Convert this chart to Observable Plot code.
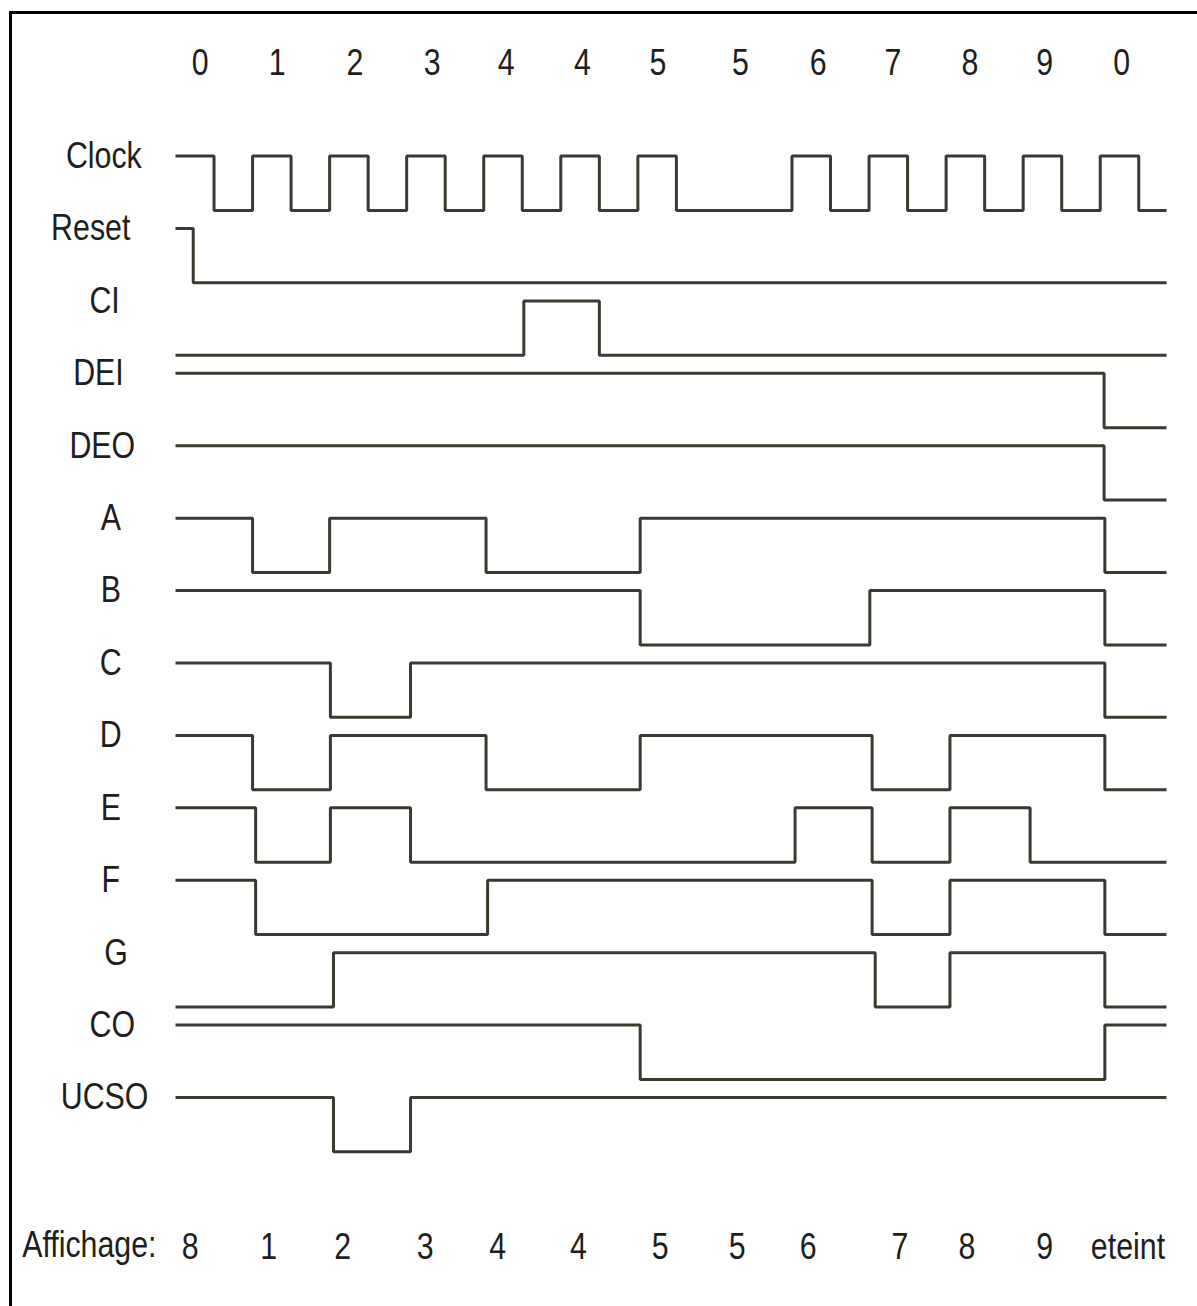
<!DOCTYPE html>
<html><head><meta charset="utf-8">
<script src="https://cdn.jsdelivr.net/npm/d3@7"></script>
<script src="https://cdn.jsdelivr.net/npm/@observablehq/plot@0.6"></script>
<style>
html,body{margin:0;padding:0;background:#fff;}
#wrap{position:relative;width:1197px;height:1306px;overflow:hidden;}
#chart{position:absolute;left:0;top:0;}
#frame{position:absolute;left:9px;top:11px;right:-10px;bottom:-10px;border-left:3px solid #000;border-top:3px solid #000;pointer-events:none;}
</style></head><body>
<div id="wrap"><div id="chart"></div><div id="frame"></div></div>
<script>
// ---- data ----
const signals = ["Clock","Reset","CI","DEI","DEO","A","B","C","D","E","F","G","CO","UCSO"];
const signalLabelTimes = [-0.93,-1.1,-0.92,-1.0,-0.95,-0.84,-0.84,-0.84,-0.84,-0.84,-0.84,-0.77,-0.82,-0.92];
const initialLevels = [1,1,0,1,1,1,1,1,1,1,1,0,1,1];
const transitions = [
  [0.5,1,1.5,2,2.5,3,3.5,4,4.5,5,5.5,6,6.5,8,8.5,9,9.5,10,10.5,11,11.5,12,12.5],
  [0.23],
  [4.52,5.5],
  [12.05],
  [12.05],
  [1,2,4.03,6.03,12.06],
  [6.03,9.01,12.06],
  [2.01,3.05,12.06],
  [1,2.01,4.03,6.03,9.04,10.05,12.06],
  [1.04,2.01,3.05,8.04,9.04,10.05,11.09],
  [1.04,4.05,9.04,10.05,12.06],
  [2.05,9.08,10.05,12.06],
  [6.03,12.06],
  [2.05,3.05]
];
const endTime = 12.86;
const topLabels = ["0","1","2","3","4","4","5","5","6","7","8","9","0"];
const topLabelTimes = [0.32,1.32,2.33,3.33,4.29,5.28,6.26,7.33,8.34,9.31,10.31,11.28,12.28];
const displayTitle = "Affichage:";
const displayLabels = ["8","1","2","3","4","4","5","5","6","7","8","9","eteint"];
const displayTimes = [0.19,1.21,2.17,3.24,4.18,5.23,6.29,7.29,8.21,9.4,10.27,11.28,12.36];

// ---- build step points ----
const swing = 0.75;
const points = [];
signals.forEach((s, i) => {
  let lv = initialLevels[i];
  points.push({signal: s, t: 0, y: i + (1 - lv) * swing});
  for (const t of transitions[i]) {
    lv = 1 - lv;
    points.push({signal: s, t, y: i + (1 - lv) * swing});
  }
  points.push({signal: s, t: endTime, y: i + (1 - lv) * swing});
});

const font = "'Liberation Sans', Arial, sans-serif";
const ink = "#3a3a30";
const txt = "#1e1e1e";

const chart = Plot.plot({
  width: 1197,
  height: 1306,
  margin: 0,
  style: {fontFamily: font, background: "transparent"},
  x: {domain: [0, 12.86], range: [175, 1166], axis: null},
  y: {domain: [0, 13], range: [155.6, 1097], axis: null},
  marks: [
    Plot.line(points, {x: "t", y: "y", z: "signal", curve: "step-after", stroke: ink, strokeWidth: 3, strokeLinejoin: "miter", strokeLinecap: "butt"}),
    Plot.text(signals, {x: (d, i) => signalLabelTimes[i], y: (d, i) => i, text: d => d, fontSize: 37, textAnchor: "middle", fill: txt}),
    Plot.text(topLabels, {x: (d, i) => topLabelTimes[i], y: () => -1.29, text: d => d, fontSize: 37, textAnchor: "middle", fill: txt}),
    Plot.text([displayTitle], {x: () => -1.99, y: () => 15.04, text: d => d, fontSize: 37, textAnchor: "start", fill: txt}),
    Plot.text(displayLabels, {x: (d, i) => displayTimes[i], y: () => 15.06, text: d => d, fontSize: 37, textAnchor: "middle", fill: txt})
  ]
});
// condense the glyphs horizontally (narrow face look), keeping each anchor point
chart.querySelectorAll("text").forEach(el => {
  const tr = el.getAttribute("transform");
  if (tr) {
    el.setAttribute("transform", tr + " scale(0.82,1)");
  } else {
    const x = +el.getAttribute("x") || 0, y = +el.getAttribute("y") || 0;
    el.removeAttribute("x"); el.removeAttribute("y");
    el.setAttribute("transform", `translate(${x},${y}) scale(0.82,1)`);
  }
});
document.getElementById("chart").appendChild(chart);
</script>
</body></html>
